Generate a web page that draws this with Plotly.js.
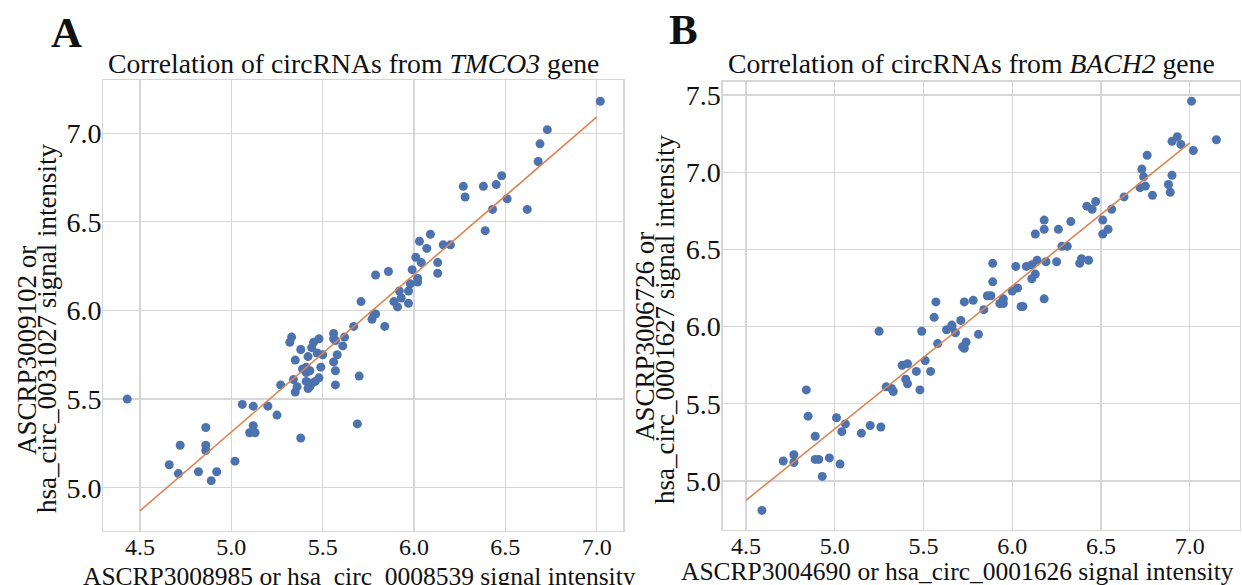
<!DOCTYPE html>
<html><head><meta charset="utf-8">
<script src="https://cdn.plot.ly/plotly-3.0.1.min.js"></script>
<style>html,body{margin:0;padding:0;background:#fff} #chart{width:1242px;height:585px}</style>
</head><body><div id="chart"></div>
<script>
// Panel A: TMCO3 circRNAs
const tmco3X = [4.43,4.66,4.71,4.72,4.82,4.86,4.86,4.86,4.89,4.92,5.02,5.06,5.12,5.12,5.10,5.13,5.20,5.25,5.27,5.38,
  5.35,5.34,5.36,5.32,5.33,5.38,5.35,5.39,5.41,5.41,5.43,5.41,5.43,5.42,5.44,5.42,5.44,5.45,5.48,5.47,
  5.50,5.49,5.48,5.46,5.56,5.56,5.57,5.62,5.61,5.58,5.56,5.57,5.57,5.70,5.69,5.67,5.71,5.78,5.79,5.77,
  5.84,7.02,6.73,6.69,6.68,6.48,6.45,6.38,6.27,6.28,6.51,6.43,6.62,6.39,6.09,6.03,6.07,6.16,6.20,6.01,
  6.04,6.13,6.13,5.99,5.86,5.79,6.02,6.02,5.98,5.97,5.92,5.93,5.89,5.91,5.97];
const tmco3Y = [5.50,5.13,5.08,5.24,5.09,5.34,5.24,5.21,5.04,5.09,5.15,5.47,5.46,5.35,5.31,5.31,5.46,5.41,5.58,5.28,
  5.54,5.61,5.57,5.82,5.85,5.78,5.72,5.67,5.68,5.65,5.66,5.60,5.57,5.56,5.59,5.74,5.79,5.82,5.84,5.76,
  5.75,5.68,5.62,5.60,5.87,5.84,5.83,5.85,5.80,5.75,5.71,5.66,5.58,5.63,5.36,5.91,6.05,5.98,5.98,5.95,
  5.91,7.18,7.02,6.94,6.84,6.76,6.71,6.70,6.70,6.64,6.63,6.57,6.57,6.45,6.43,6.39,6.35,6.37,6.37,6.30,
  6.27,6.27,6.21,6.23,6.22,6.20,6.18,6.16,6.15,6.11,6.11,6.07,6.05,6.02,6.04];
const tmco3FitX = [4.5, 7.0];
const tmco3FitY = [4.87, 7.09];

// Panel B: BACH2 circRNAs
const bach2X = [4.59,4.71,4.77,4.77,4.84,4.85,4.89,4.89,4.91,4.93,4.97,5.03,5.01,5.06,5.04,5.15,5.20,5.26,5.25,5.29,
  5.32,5.33,5.38,5.41,5.40,5.41,5.46,5.48,5.49,5.51,5.54,5.56,5.58,5.57,5.63,5.66,5.66,5.68,5.71,5.72,
  5.73,5.74,5.73,5.78,5.81,5.84,5.89,5.89,5.86,5.88,5.93,5.95,5.95,6.02,6.00,6.03,6.05,6.06,6.08,6.11,
  6.14,6.13,6.11,6.19,6.18,6.13,6.18,6.18,6.25,6.26,6.28,6.31,6.33,6.38,6.39,6.43,6.42,6.45,6.47,6.51,
  6.51,6.54,6.56,6.63,6.72,6.75,6.73,6.74,6.76,6.79,6.88,6.90,6.89,6.90,6.93,6.95,7.01,7.02,7.15];
const bach2Y = [4.81,5.13,5.17,5.12,5.59,5.42,5.29,5.14,5.14,5.03,5.15,5.11,5.41,5.37,5.32,5.31,5.36,5.35,5.97,5.61,
  5.60,5.58,5.75,5.76,5.66,5.63,5.71,5.59,5.97,5.78,5.71,6.06,5.89,6.16,5.98,6.00,6.01,5.96,6.04,5.87,
  5.86,5.90,6.16,6.17,5.95,6.11,6.41,6.29,6.20,6.20,6.15,6.18,6.15,6.39,6.23,6.25,6.13,6.13,6.39,6.40,
  6.43,6.34,6.31,6.42,6.18,6.60,6.69,6.63,6.42,6.63,6.52,6.52,6.68,6.41,6.44,6.43,6.78,6.76,6.81,6.69,
  6.60,6.63,6.76,6.84,6.90,6.91,7.02,6.97,7.11,6.85,6.92,6.98,6.87,7.20,7.23,7.18,7.46,7.14,7.21];
const bach2FitX = [4.5, 7.0];
const bach2FitY = [4.875, 7.19];

const titleA = 'Correlation of circRNAs from <i>TMCO3</i> gene';
const titleB = 'Correlation of circRNAs from <i>BACH2</i> gene';
const xTitleA = 'ASCRP3008985 or hsa_circ_0008539 signal intensity';
const xTitleB = 'ASCRP3004690 or hsa_circ_0001626 signal intensity';
const yTitleA = ['ASCRP3009102 or', 'hsa_circ_0031027 signal intensity'];
const yTitleB = ['ASCRP3006726 or', 'hsa_circ_0001627 signal intensity'];

const FONT = 'Liberation Serif, Times New Roman, serif';
const DOT = '#4c72b0', FIT = '#dd8452', GRID = '#d6d6d6';
const W = 1242, H = 585;
const px = v => v / W, py = v => 1 - v / H;

const traces = [
  {x: tmco3X, y: tmco3Y, type: 'scatter', mode: 'markers', xaxis: 'x', yaxis: 'y',
   marker: {color: DOT, size: 9}},
  {x: tmco3FitX, y: tmco3FitY, type: 'scatter', mode: 'lines', xaxis: 'x', yaxis: 'y',
   line: {color: FIT, width: 1.6}},
  {x: bach2X, y: bach2Y, type: 'scatter', mode: 'markers', xaxis: 'x2', yaxis: 'y2',
   marker: {color: DOT, size: 9}},
  {x: bach2FitX, y: bach2FitY, type: 'scatter', mode: 'lines', xaxis: 'x2', yaxis: 'y2',
   line: {color: FIT, width: 1.6}}
];

function ax(extra) {
  return Object.assign({
    showgrid: true, gridcolor: GRID, gridwidth: 1.3, zeroline: false,
    showline: true, linecolor: GRID, linewidth: 1.3, mirror: true,
    ticks: '', dtick: 0.5, tickformat: '.1f', color: '#111',
  }, extra);
}

function note(text, x, y, size, angle) {
  return {text: text, x: px(x), y: py(y), xref: 'paper', yref: 'paper', showarrow: false,
    xanchor: 'center', yanchor: 'middle', textangle: angle || 0,
    font: {size: size, family: FONT, color: '#111'}};
}

const layout = {
  width: W, height: H, showlegend: false,
  paper_bgcolor: '#fff', plot_bgcolor: '#fff',
  margin: {l: 0, r: 0, t: 0, b: 0},
  font: {family: FONT, color: '#111'},
  xaxis: ax({domain: [px(103.3), px(623.3)], range: [4.299, 7.146], tick0: 4.5, anchor: 'y',
    tickfont: {size: 24}, ticklabelstandoff: -6}),
  yaxis: ax({domain: [py(531), py(80)], range: [4.756, 7.30], tick0: 5, anchor: 'x',
    tickfont: {size: 28}, ticklabelstandoff: -5}),
  xaxis2: ax({domain: [px(722.7), px(1240)], range: [4.369, 7.283], tick0: 4.5, anchor: 'y2',
    tickfont: {size: 24}, ticklabelstandoff: -6}),
  yaxis2: ax({domain: [py(530), py(81.7)], range: [4.683, 7.586], tick0: 5, anchor: 'x2',
    tickfont: {size: 28}, ticklabelstandoff: -5}),
  annotations: [
    note('<b>A</b>', 66, 32, 43),
    note('<b>B</b>', 683, 29, 43),
    note(titleA, 353, 63, 27.7),
    note(titleB, 971, 63, 27.7),
    note(xTitleA, 359, 576, 25.5),
    note(xTitleB, 957, 571, 25.5),
    note(yTitleA[0], 27, 351, 27, -90),
    note(yTitleA[1], 47, 329, 27, -90),
    note(yTitleB[0], 645, 337, 27, -90),
    note(yTitleB[1], 665, 320, 27, -90)
  ]
};

Plotly.newPlot('chart', traces, layout, {displayModeBar: false, staticPlot: true});
</script>
</body></html>
